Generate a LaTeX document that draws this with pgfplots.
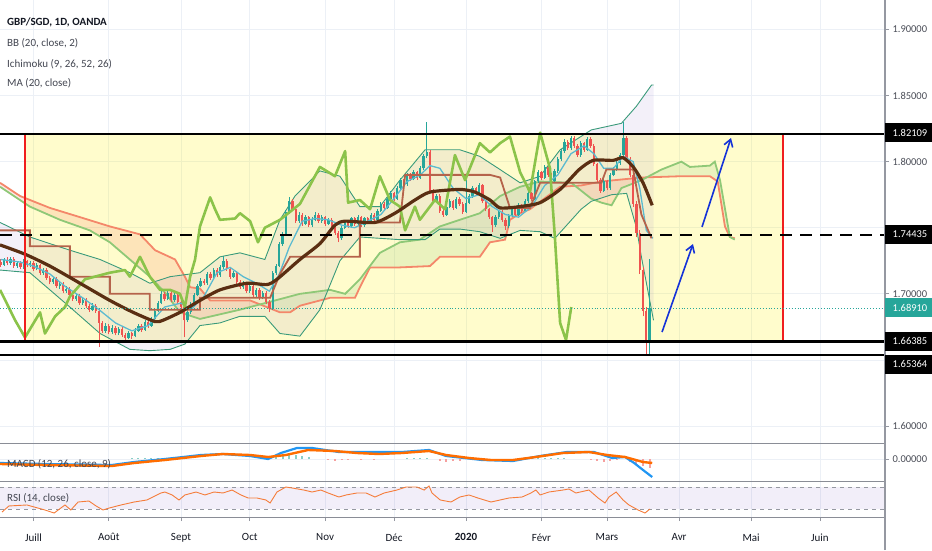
\documentclass[border=0pt]{standalone}
\usepackage{fontspec}
\setmainfont{Carlito}
\usepackage{pgfplots}
\usepackage{pgfplotstable}
\pgfplotsset{compat=1.18}
\usetikzlibrary{arrows.meta}

\definecolor{upc}{HTML}{26A69A}
\definecolor{dnc}{HTML}{EF5350}
\definecolor{gridc}{HTML}{ECF0F6}
\definecolor{sepc}{HTML}{8A8D96}
\definecolor{tickc}{HTML}{9598A1}
\definecolor{txt}{HTML}{131722}
\definecolor{txt2}{HTML}{434651}
\definecolor{lblc}{HTML}{4A4D57}
\definecolor{bbline}{HTML}{3A9A7A}
\definecolor{bbfillc}{HTML}{7E57C2}
\definecolor{spanA}{HTML}{8FC877}
\definecolor{spanB}{HTML}{F4876A}
\definecolor{kijun}{HTML}{B5634B}
\definecolor{tenkan}{HTML}{5BBAD0}
\definecolor{lag}{HTML}{8BC34A}
\definecolor{mac}{HTML}{5A2E12}
\definecolor{macdb}{HTML}{2196F3}
\definecolor{macdo}{HTML}{FF6D00}
\definecolor{rsic}{HTML}{F57C3A}
\definecolor{rsif}{HTML}{7E57C2}
\definecolor{arrowc}{HTML}{1432D8}
\definecolor{rectred}{HTML}{F01E1E}
\definecolor{cloudG}{HTML}{43A047}
\definecolor{cloudR}{HTML}{F44336}

\newcommand{\lblfont}{\fontsize{10.5}{12}\selectfont}
\newcommand{\legfont}{\fontsize{11}{13}\selectfont}

\pgfplotstableread{
x o c h l
-10 1.7240 1.7220 1.7262 1.7205
-9 1.7220 1.7255 1.7270 1.7210
-8 1.7255 1.7230 1.7275 1.7215
-7 1.7230 1.7265 1.7280 1.7220
-6 1.7265 1.7210 1.7278 1.7195
-5 1.7210 1.7235 1.7252 1.7198
-4 1.7235 1.7200 1.7248 1.7185
-3 1.7200 1.7245 1.7262 1.7190
-2 1.7245 1.7215 1.7258 1.7200
-1 1.7215 1.7230 1.7250 1.7200
0 1.7230 1.7190 1.7245 1.7175
1 1.7190 1.7215 1.7232 1.7178
2 1.7215 1.7160 1.7228 1.7145
3 1.7160 1.7180 1.7198 1.7142
4 1.7180 1.7120 1.7192 1.7105
5 1.7120 1.7090 1.7135 1.7072
6 1.7090 1.7115 1.7130 1.7078
7 1.7115 1.7060 1.7128 1.7045
8 1.7060 1.7075 1.7092 1.7040
9 1.7075 1.7020 1.7090 1.7005
10 1.7020 1.7040 1.7058 1.7008
11 1.7040 1.6990 1.7052 1.6975
12 1.6990 1.6960 1.7005 1.6945
13 1.6960 1.6985 1.7002 1.6948
14 1.6985 1.6930 1.6998 1.6915
15 1.6930 1.6955 1.6972 1.6918
16 1.6955 1.6905 1.6968 1.6890
17 1.6905 1.6880 1.6920 1.6862
18 1.6880 1.6910 1.6928 1.6868
19 1.6910 1.6870 1.6925 1.6855
20 1.6870 1.6780 1.6885 1.6600
21 1.6780 1.6720 1.6795 1.6700
22 1.6720 1.6760 1.6778 1.6705
23 1.6760 1.6710 1.6772 1.6695
24 1.6710 1.6745 1.6762 1.6698
25 1.6745 1.6700 1.6758 1.6685
26 1.6700 1.6735 1.6750 1.6688
27 1.6735 1.6690 1.6748 1.6672
28 1.6690 1.6665 1.6705 1.6648
29 1.6665 1.6700 1.6718 1.6655
30 1.6700 1.6680 1.6712 1.6662
31 1.6680 1.6720 1.6738 1.6670
32 1.6720 1.6760 1.6775 1.6710
33 1.6760 1.6730 1.6772 1.6715
34 1.6730 1.6790 1.6805 1.6720
35 1.6790 1.6760 1.6802 1.6745
36 1.6760 1.6810 1.6828 1.6750
37 1.6810 1.6870 1.6885 1.6800
38 1.6870 1.6930 1.6948 1.6860
39 1.6930 1.7000 1.7018 1.6920
40 1.7000 1.6960 1.7012 1.6945
41 1.6960 1.7010 1.7028 1.6950
42 1.7010 1.6950 1.7022 1.6935
43 1.6950 1.6990 1.7005 1.6938
44 1.6990 1.6940 1.7002 1.6925
45 1.6940 1.6900 1.6955 1.6885
46 1.6900 1.6800 1.6912 1.6670
47 1.6800 1.6860 1.6875 1.6790
48 1.6860 1.6920 1.6935 1.6850
49 1.6920 1.6990 1.7005 1.6910
50 1.6990 1.7060 1.7075 1.6980
51 1.7060 1.7100 1.7118 1.7048
52 1.7100 1.7080 1.7115 1.7065
53 1.7080 1.7150 1.7165 1.7070
54 1.7150 1.7120 1.7162 1.7105
55 1.7120 1.7180 1.7195 1.7110
56 1.7180 1.7140 1.7192 1.7125
57 1.7140 1.7200 1.7215 1.7130
58 1.7200 1.7250 1.7290 1.7190
59 1.7250 1.7190 1.7262 1.7175
60 1.7190 1.7130 1.7202 1.7115
61 1.7130 1.7160 1.7175 1.7118
62 1.7160 1.7090 1.7172 1.7075
63 1.7090 1.7050 1.7105 1.7035
64 1.7050 1.7080 1.7095 1.7038
65 1.7080 1.7020 1.7092 1.7005
66 1.7020 1.7060 1.7075 1.7008
67 1.7060 1.6990 1.7072 1.6975
68 1.6990 1.7030 1.7045 1.6978
69 1.7030 1.6970 1.7042 1.6955
70 1.6970 1.7010 1.7025 1.6958
71 1.7010 1.6940 1.7022 1.6925
72 1.6940 1.6890 1.6955 1.6860
73 1.6890 1.7160 1.7175 1.6880
74 1.7160 1.7210 1.7228 1.7145
75 1.7210 1.7380 1.7395 1.7200
76 1.7380 1.7450 1.7468 1.7365
77 1.7450 1.7620 1.7638 1.7440
78 1.7620 1.7700 1.7730 1.7605
79 1.7700 1.7640 1.7715 1.7625
80 1.7640 1.7550 1.7655 1.7535
81 1.7550 1.7600 1.7618 1.7538
82 1.7600 1.7530 1.7612 1.7515
83 1.7530 1.7580 1.7598 1.7518
84 1.7580 1.7520 1.7592 1.7505
85 1.7520 1.7560 1.7578 1.7508
86 1.7560 1.7600 1.7618 1.7548
87 1.7600 1.7550 1.7612 1.7535
88 1.7550 1.7580 1.7595 1.7538
89 1.7580 1.7530 1.7592 1.7515
90 1.7530 1.7560 1.7575 1.7518
91 1.7560 1.7500 1.7572 1.7485
92 1.7500 1.7460 1.7515 1.7445
93 1.7460 1.7420 1.7475 1.7390
94 1.7420 1.7500 1.7515 1.7410
95 1.7500 1.7540 1.7558 1.7488
96 1.7540 1.7510 1.7552 1.7495
97 1.7510 1.7570 1.7585 1.7500
98 1.7570 1.7530 1.7582 1.7515
99 1.7530 1.7580 1.7595 1.7518
100 1.7580 1.7520 1.7592 1.7505
101 1.7520 1.7570 1.7585 1.7508
102 1.7570 1.7540 1.7582 1.7525
103 1.7540 1.7600 1.7615 1.7530
104 1.7600 1.7560 1.7612 1.7545
105 1.7560 1.7630 1.7645 1.7548
106 1.7630 1.7680 1.7695 1.7618
107 1.7680 1.7650 1.7692 1.7635
108 1.7650 1.7720 1.7735 1.7640
109 1.7720 1.7760 1.7778 1.7708
110 1.7760 1.7720 1.7772 1.7705
111 1.7720 1.7800 1.7815 1.7710
112 1.7800 1.7860 1.7878 1.7788
113 1.7860 1.7830 1.7872 1.7815
114 1.7830 1.7900 1.7915 1.7818
115 1.7900 1.7870 1.7912 1.7855
116 1.7870 1.7920 1.7935 1.7858
117 1.7920 1.7880 1.7932 1.7865
118 1.7880 1.7950 1.7965 1.7870
119 1.7950 1.8040 1.8058 1.7940
120 1.8040 1.8070 1.8300 1.8025
121 1.8070 1.7780 1.8085 1.7765
122 1.7780 1.7700 1.7795 1.7685
123 1.7700 1.7740 1.7758 1.7688
124 1.7740 1.7630 1.7752 1.7615
125 1.7630 1.7600 1.7645 1.7585
126 1.7600 1.7660 1.7675 1.7590
127 1.7660 1.7700 1.7718 1.7648
128 1.7700 1.7650 1.7712 1.7635
129 1.7650 1.7720 1.7735 1.7640
130 1.7720 1.7680 1.7732 1.7665
131 1.7680 1.7620 1.7692 1.7605
132 1.7620 1.7690 1.7860 1.7610
133 1.7690 1.7740 1.7758 1.7678
134 1.7740 1.7800 1.7815 1.7728
135 1.7800 1.7760 1.7812 1.7745
136 1.7760 1.7820 1.7838 1.7748
137 1.7820 1.7700 1.7832 1.7685
138 1.7700 1.7640 1.7712 1.7625
139 1.7640 1.7580 1.7652 1.7565
140 1.7580 1.7520 1.7592 1.7470
141 1.7520 1.7580 1.7595 1.7508
142 1.7580 1.7620 1.7638 1.7568
143 1.7620 1.7560 1.7632 1.7545
144 1.7560 1.7510 1.7572 1.7480
145 1.7510 1.7590 1.7605 1.7498
146 1.7590 1.7640 1.7655 1.7578
147 1.7640 1.7600 1.7652 1.7585
148 1.7600 1.7670 1.7685 1.7588
149 1.7670 1.7630 1.7682 1.7615
150 1.7630 1.7700 1.7715 1.7618
151 1.7700 1.7760 1.7778 1.7688
152 1.7760 1.7720 1.7772 1.7705
153 1.7720 1.7850 1.7865 1.7708
154 1.7850 1.7920 1.7938 1.7838
155 1.7920 1.7880 1.7932 1.7865
156 1.7880 1.7960 1.7975 1.7868
157 1.7960 1.7900 1.7972 1.7885
158 1.7900 1.7850 1.7915 1.7835
159 1.7850 1.7930 1.7945 1.7838
160 1.7930 1.8020 1.8035 1.7918
161 1.8020 1.8080 1.8098 1.8008
162 1.8080 1.8150 1.8168 1.8068
163 1.8150 1.8100 1.8162 1.8085
164 1.8100 1.8180 1.8195 1.8088
165 1.8180 1.8120 1.8192 1.8105
166 1.8120 1.8050 1.8132 1.8035
167 1.8050 1.8140 1.8155 1.8038
168 1.8140 1.8090 1.8152 1.8075
169 1.8090 1.8170 1.8188 1.8078
170 1.8170 1.8120 1.8185 1.8105
171 1.8120 1.7980 1.8132 1.7965
172 1.7980 1.7860 1.7992 1.7845
173 1.7860 1.7780 1.7875 1.7765
174 1.7780 1.7850 1.7868 1.7768
175 1.7850 1.7800 1.7862 1.7785
176 1.7800 1.7900 1.7915 1.7788
177 1.7900 1.7940 1.7958 1.7888
178 1.7940 1.7990 1.8005 1.7928
179 1.7990 1.8050 1.8068 1.7978
180 1.8050 1.8180 1.8300 1.8035
181 1.8180 1.8020 1.8195 1.8005
182 1.8020 1.7900 1.8035 1.7885
183 1.7900 1.7680 1.7915 1.7660
184 1.7680 1.7460 1.7700 1.7430
185 1.7460 1.7180 1.7480 1.7150
186 1.7180 1.6870 1.7200 1.6830
187 1.6870 1.6640 1.6900 1.6536
188 1.6640 1.6891 1.7260 1.6540
}\candles

\pgfplotstableread{
x y
-10.2 1.737
-2.6 1.730
5.0 1.721
14.2 1.708
23.3 1.695
30.4 1.686
37.1 1.679
39.5 1.680
44.7 1.686
50.8 1.695
56.9 1.703
65.1 1.708
71.2 1.707
74.3 1.711
81.3 1.726
87.4 1.738
92.0 1.752
95.1 1.755
104.2 1.754
110.3 1.761
116.4 1.771
121.0 1.777
130.1 1.779
134.7 1.777
139.3 1.771
142.4 1.765
148.5 1.766
154.6 1.769
160.7 1.779
166.5 1.794
170.8 1.801
176.9 1.801
179.9 1.803
183.0 1.796
186.0 1.784
188.8 1.767
}\matab

\pgfplotstableread{
x y
-10.2 1.754
-1.1 1.743
11.1 1.733
20.3 1.726
29.4 1.716
35.5 1.708
41.7 1.713
50.8 1.716
56.9 1.728
63.0 1.731
70.6 1.726
75.2 1.756
79.8 1.774
87.4 1.793
93.5 1.789
99.6 1.766
105.7 1.766
111.8 1.786
119.5 1.809
130.1 1.809
136.2 1.804
142.4 1.794
148.5 1.784
154.6 1.789
160.7 1.809
170.2 1.824
179.4 1.829
184.0 1.842
188.6 1.858
189.2 1.858
}\bbu

\pgfplotstableread{
x y
-10.2 1.718
-1.1 1.716
11.1 1.690
20.3 1.670
29.4 1.658
35.5 1.657
41.7 1.658
46.2 1.662
50.8 1.676
56.9 1.678
63.0 1.683
70.6 1.683
75.2 1.670
81.3 1.668
87.4 1.688
93.5 1.725
99.6 1.743
105.7 1.742
111.8 1.741
119.5 1.741
124.0 1.749
130.1 1.749
136.2 1.747
142.4 1.742
148.5 1.748
154.6 1.747
159.1 1.742
167.1 1.764
170.2 1.770
176.4 1.775
181.0 1.776
184.0 1.750
185.5 1.728
189.2 1.680
}\bbl

% Bollinger band area: upper band forward, lower band back
\pgfplotstableread{
x y
-10.2 1.754
-1.1 1.743
11.1 1.733
20.3 1.726
29.4 1.716
35.5 1.708
41.7 1.713
50.8 1.716
56.9 1.728
63.0 1.731
70.6 1.726
75.2 1.756
79.8 1.774
87.4 1.793
93.5 1.789
99.6 1.766
105.7 1.766
111.8 1.786
119.5 1.809
130.1 1.809
136.2 1.804
142.4 1.794
148.5 1.784
154.6 1.789
160.7 1.809
170.2 1.824
179.4 1.829
184.0 1.842
188.6 1.858
189.2 1.858
189.2 1.680
185.5 1.728
184.0 1.750
181.0 1.776
176.4 1.775
170.2 1.770
167.1 1.764
159.1 1.742
154.6 1.747
148.5 1.748
142.4 1.742
136.2 1.747
130.1 1.749
124.0 1.749
119.5 1.741
111.8 1.741
105.7 1.742
99.6 1.743
93.5 1.725
87.4 1.688
81.3 1.668
75.2 1.670
70.6 1.683
63.0 1.683
56.9 1.678
50.8 1.676
46.2 1.662
41.7 1.658
35.5 1.657
29.4 1.658
20.3 1.670
11.1 1.690
-1.1 1.716
-10.2 1.718
}\bbpoly

\pgfplotstableread{
x y
-10.2 1.784
-4.1 1.774
5.0 1.765
14.2 1.758
23.3 1.751
32.5 1.745
37.1 1.733
43.2 1.726
46.2 1.713
47.8 1.705
50.8 1.704
53.9 1.695
66.1 1.695
75.2 1.686
78.3 1.686
81.3 1.691
90.5 1.697
98.1 1.697
99.6 1.705
102.7 1.720
111.8 1.720
121.0 1.721
124.0 1.728
136.2 1.728
139.3 1.739
143.9 1.741
145.4 1.756
148.5 1.761
151.5 1.764
160.7 1.781
167.1 1.782
173.3 1.785
185.5 1.788
197.7 1.789
206.4 1.789
208.8 1.785
211.0 1.751
212.5 1.743
214.0 1.742
}\spb

\pgfplotstableread{
x y
-10.2 1.781
-1.1 1.766
8.1 1.756
17.2 1.748
23.3 1.739
29.4 1.726
35.5 1.713
40.1 1.701
44.7 1.686
50.8 1.681
63.0 1.688
72.2 1.694
81.3 1.700
90.5 1.703
95.1 1.700
99.6 1.711
105.7 1.731
111.8 1.739
117.9 1.741
124.0 1.751
130.1 1.756
136.2 1.761
142.4 1.774
148.5 1.781
154.6 1.785
164.1 1.784
170.2 1.772
173.3 1.769
176.4 1.767
179.4 1.780
185.5 1.786
191.6 1.794
197.7 1.800
200.3 1.796
206.4 1.797
207.9 1.800
209.5 1.786
212.5 1.743
214.0 1.741
}\spa

% cloud pieces (span A forward, span B back)
\pgfplotstableread{
x y
-10.2 1.781
-1.1 1.766
8.1 1.756
17.2 1.748
23.3 1.739
29.4 1.726
35.5 1.713
40.1 1.701
44.7 1.686
50.8 1.681
63.0 1.688
69.0 1.692
66.1 1.695
53.9 1.695
50.8 1.704
47.8 1.705
46.2 1.713
43.2 1.726
37.1 1.733
32.5 1.745
23.3 1.751
14.2 1.758
5.0 1.765
-4.1 1.774
-10.2 1.784
}\cloudone

\pgfplotstableread{
x y
69.0 1.692
72.2 1.694
81.3 1.700
90.5 1.703
95.1 1.700
99.6 1.711
105.7 1.731
111.8 1.739
117.9 1.741
124.0 1.751
130.1 1.756
136.2 1.761
142.4 1.774
148.5 1.781
154.6 1.785
164.1 1.784
165.3 1.7815
160.7 1.781
151.5 1.764
148.5 1.761
145.4 1.756
143.9 1.741
139.3 1.739
136.2 1.728
124.0 1.728
121.0 1.721
111.8 1.720
102.7 1.720
99.6 1.705
98.1 1.697
90.5 1.697
81.3 1.691
78.3 1.686
75.2 1.686
}\cloudtwo

\pgfplotstableread{
x y
165.3 1.7815
170.2 1.772
173.3 1.769
176.4 1.767
179.4 1.780
185.5 1.786
187.2 1.7882
185.5 1.788
173.3 1.785
167.1 1.782
}\cloudthree

\pgfplotstableread{
x y
187.2 1.7882
191.6 1.794
197.7 1.800
200.3 1.796
206.4 1.797
207.9 1.800
209.5 1.786
212.5 1.743
211.0 1.751
208.8 1.785
206.4 1.789
197.7 1.789
}\cloudfour

\pgfplotstableread{
x y
-10.2 1.703
-5.6 1.680
-2.6 1.667
2.0 1.686
3.5 1.670
6.6 1.683
9.6 1.690
11.1 1.698
15.7 1.711
23.3 1.716
27.9 1.718
29.4 1.713
32.5 1.728
35.5 1.713
38.6 1.703
41.7 1.703
44.7 1.700
46.2 1.690
47.8 1.713
49.3 1.726
50.8 1.751
53.9 1.773
55.4 1.764
56.9 1.756
61.5 1.757
63.0 1.761
66.1 1.755
68.5 1.739
70.6 1.750
75.2 1.756
81.3 1.768
87.4 1.796
92.0 1.789
95.1 1.808
96.0 1.769
99.6 1.771
102.7 1.764
105.7 1.789
108.8 1.771
111.8 1.766
113.4 1.748
116.4 1.766
117.9 1.756
122.5 1.771
125.6 1.764
128.6 1.805
131.7 1.786
136.2 1.814
139.3 1.807
142.4 1.814
145.4 1.819
148.5 1.792
151.5 1.777
154.6 1.822
157.6 1.795
159.1 1.743
160.7 1.678
162.5 1.665
164.1 1.690
}\lagtab

\pgfplotstableread{
x y
-10.2 1.748
-1.1 1.748
-1.1 1.736
11.1 1.736
11.1 1.713
23.3 1.713
23.3 1.700
35.5 1.700
35.5 1.688
50.8 1.688
50.8 1.697
72.2 1.697
75.2 1.715
78.3 1.728
99.6 1.728
99.6 1.754
111.8 1.754
113.4 1.790
139.3 1.790
142.4 1.788
145.4 1.765
151.5 1.765
154.6 1.784
173.3 1.784
174.8 1.794
183.0 1.794
185.5 1.760
188.6 1.742
}\kijtab

\pgfplotstableread{
x y
-10 1.726
-4 1.724
0 1.721
5 1.715
10 1.705
15 1.697
20 1.688
25 1.678
30 1.672
35 1.676
40 1.690
45 1.693
48 1.688
52 1.698
56 1.716
60 1.720
64 1.713
68 1.708
72 1.702
75 1.715
78 1.735
82 1.755
86 1.757
90 1.756
94 1.752
98 1.750
102 1.755
106 1.760
110 1.772
114 1.785
118 1.790
121 1.797
124 1.795
128 1.780
132 1.772
136 1.775
140 1.766
144 1.760
148 1.758
152 1.766
156 1.782
160 1.790
164 1.806
168 1.812
171 1.806
174 1.795
177 1.795
180 1.804
183 1.800
185 1.780
187 1.748
189 1.742
}\tentab

\pgfplotstableread{
x y
-10.2 -0.005
3.5 -0.006
23.9 -0.007
30.7 -0.004
40.1 -0.001
51.1 0.003
57.8 0.005
66.1 0.004
71.6 0.002
77.0 0.004
83.8 0.009
92.0 0.008
98.7 0.006
105.4 0.005
112.4 0.006
120.7 0.008
125.9 0.004
132.9 0.001
139.6 -0.001
146.3 -0.001
153.3 0.002
161.6 0.006
169.5 0.007
175.0 0.004
180.5 0.002
186.0 -0.003
188.8 -0.004
}\sigtab

\pgfplotstableread{
x y
-10.2 -0.004
3.5 -0.005
23.9 -0.006
30.7 -0.003
40.1 0.000
51.1 0.004
57.8 0.005
66.1 0.003
71.6 0.000
75.5 0.006
80.4 0.011
85.0 0.011
93.2 0.007
112.4 0.007
120.7 0.009
125.9 0.003
136.9 -0.001
146.3 -0.002
154.6 0.003
162.8 0.007
171.0 0.007
176.6 0.001
180.5 0.002
183.3 -0.004
186.0 -0.011
188.8 -0.018
}\macdtab

\pgfplotstableread{
x y
30 0.0008
32 0.0012
34 0.0015
36 0.0015
38 0.0012
40 0.0010
42 0.0008
44 0.0006
74 0.0020
76 0.0030
78 0.0040
80 0.0040
82 0.0030
84 0.0020
114 0.0010
116 0.0012
118 0.0015
120 0.0012
152 0.0010
154 0.0012
156 0.0015
158 0.0012
160 0.0010
162 0.0008
}\histup

\pgfplotstableread{
x y
90 -0.0010
92 -0.0015
94 -0.0012
96 -0.0010
100 -0.0008
104 -0.0010
124 -0.0020
126 -0.0030
128 -0.0020
130 -0.0015
136 -0.0010
138 -0.0012
170 -0.0010
172 -0.0020
174 -0.0030
176 -0.0020
178 -0.0010
182 -0.0030
184 -0.0050
186 -0.0070
188 -0.0085
}\histdn

\pgfplotstableread{
x y
-9.6 24.5
-7.5 35.5
-2.0 37.3
3.5 28.2
6.3 22.7
9.6 37.3
11.4 28.2
13.6 42.7
16.9 44.5
19.1 35.5
21.2 28.2
23.1 31.8
26.7 37.3
30.7 42.7
34.6 46.4
38.9 59.1
40.1 60.9
42.3 55.5
44.4 46.4
46.2 55.5
49.6 60.9
52.3 55.5
55.1 60.9
57.8 59.1
60.6 64.5
63.3 55.5
65.5 50.0
68.2 50.0
70.9 46.4
72.2 40.9
74.3 60.9
77.0 70.0
78.9 68.2
82.5 64.5
85.0 60.9
87.7 64.5
89.9 59.1
93.2 51.8
95.4 55.5
98.7 59.1
101.5 59.1
104.2 51.8
107.0 59.1
110.9 64.5
113.7 70.0
117.0 70.0
119.2 64.5
120.7 71.8
121.6 59.1
124.1 46.4
127.4 42.7
130.1 51.8
132.9 55.5
135.6 50.0
139.6 42.7
142.4 46.4
145.1 50.0
149.1 51.8
151.8 59.1
153.3 64.5
154.6 55.5
157.3 60.9
161.6 64.5
163.4 66.4
165.5 59.1
169.5 64.5
172.3 50.0
174.4 40.9
175.6 51.8
177.8 60.9
179.9 46.4
181.7 37.3
184.5 28.2
186.6 22.7
188.1 30.0
}\rsitab

\pgfplotsset{
  panel/.style={
    scale only axis, width=885pt,
    xmin=-10.223, xmax=259.84,
    axis line style={draw=none},
    xtick={0,23,45,66,89,110,132,155,175,197,219,240},
    xticklabels={},
    xmajorgrids,
    grid style={draw=gridc, line width=0.8pt},
    xtick style={draw=none},
    ytick pos=right, yticklabel pos=right,
    ytick style={draw=tickc, line width=0.8pt},
    tick align=outside, major tick length=4pt,
    yticklabel style={font=\lblfont, text=lblc, anchor=west},
    scaled ticks=false,
    clip=true,
  },
}

\begin{document}
\begin{tikzpicture}[x=1pt,y=1pt]
\path[use as bounding box] (0pt,0pt) rectangle (932pt,550pt);

% ---------------- main price panel ----------------
\begin{axis}[panel, at={(0pt,550pt)}, anchor=north west, height=443pt,
  ymin=1.58714, ymax=1.92232, ymajorgrids,
  ytick={1.60,1.65,1.70,1.75,1.80,1.85,1.90},
  yticklabels={1.60000,,1.70000,,1.80000,1.85000,1.90000}]

% yellow rectangle fill
\addplot[fill=yellow, fill opacity=0.2, draw=none, forget plot] coordinates {(-2.6,1.66385) (228.7,1.66385) (228.7,1.82109) (-2.6,1.82109)};

% ichimoku cloud
\addplot[fill=cloudR, fill opacity=0.13, draw=none, forget plot] table[x=x,y=y]{\cloudone};
\addplot[fill=cloudG, fill opacity=0.11, draw=none, forget plot] table[x=x,y=y]{\cloudtwo};
\addplot[fill=cloudR, fill opacity=0.13, draw=none, forget plot] table[x=x,y=y]{\cloudthree};
\addplot[fill=cloudG, fill opacity=0.11, draw=none, forget plot] table[x=x,y=y]{\cloudfour};

% Bollinger fill
\addplot[fill=bbfillc, fill opacity=0.09, draw=none, forget plot] table[x=x,y=y]{\bbpoly};

% cloud lines
\addplot[spanB, line width=1.8pt, mark=none] table[x=x,y=y]{\spb};
\addplot[spanA, line width=1.8pt, mark=none] table[x=x,y=y]{\spa};

% BB bands
\addplot[bbline, line width=0.9pt, mark=none] table[x=x,y=y]{\bbu};
\addplot[bbline, line width=0.9pt, mark=none] table[x=x,y=y]{\bbl};

% candles: wicks (zero length where the candle has the other colour)
\addplot[draw=none, mark=none, forget plot,
  error bars/.cd, y dir=plus, y explicit, error mark=none,
  error bar style={draw=upc, solid, line width=0.8pt}]
  table[x=x, y=l, y error expr={\thisrow{c}<\thisrow{o} ? 0 : \thisrow{h}-\thisrow{l}}]{\candles};
\addplot[draw=none, mark=none, forget plot,
  error bars/.cd, y dir=plus, y explicit, error mark=none,
  error bar style={draw=dnc, solid, line width=0.8pt}]
  table[x=x, y=l, y error expr={\thisrow{c}<\thisrow{o} ? \thisrow{h}-\thisrow{l} : 0}]{\candles};
% candles: bodies
\addplot[draw=none, mark=none, forget plot,
  error bars/.cd, y dir=plus, y explicit, error mark=none,
  error bar style={draw=upc, solid, line width=2.3pt}]
  table[x=x, y=o, y error expr={\thisrow{c}<\thisrow{o} ? 0 : \thisrow{c}-\thisrow{o}}]{\candles};
\addplot[draw=none, mark=none, forget plot,
  error bars/.cd, y dir=plus, y explicit, error mark=none,
  error bar style={draw=dnc, solid, line width=2.3pt}]
  table[x=x, y=c, y error expr={\thisrow{c}<\thisrow{o} ? \thisrow{o}-\thisrow{c} : 0}]{\candles};

% Ichimoku conversion / base / lagging
\addplot[tenkan, line width=1.3pt, mark=none] table[x=x,y=y]{\tentab};
\addplot[kijun, line width=1.8pt, mark=none] table[x=x,y=y]{\kijtab};
\addplot[lag, line width=2.6pt, mark=none, line join=round] table[x=x,y=y]{\lagtab};

% MA 20
\addplot[mac, line width=3.2pt, mark=none, smooth, tension=0.4] table[x=x,y=y]{\matab};

% rectangle border
\addplot[rectred, line width=1.5pt, mark=none, forget plot] coordinates {(-2.6,1.66385) (228.7,1.66385) (228.7,1.82109) (-2.6,1.82109) (-2.6,1.66385)};

% horizontal levels
\addplot[black, line width=2.4pt, mark=none, forget plot] coordinates {(-10.223,1.82109) (259.84,1.82109)};
\addplot[black, line width=2.4pt, mark=none, forget plot, dash pattern=on 12pt off 8pt] coordinates {(-10.223,1.74435) (259.84,1.74435)};
\addplot[black, line width=2.4pt, mark=none, forget plot] coordinates {(-10.223,1.66385) (259.84,1.66385)};
\addplot[black, line width=2.4pt, mark=none, forget plot] coordinates {(-10.223,1.65364) (259.84,1.65364)};
\addplot[upc, line width=0.9pt, mark=none, forget plot, dotted] coordinates {(-10.223,1.68910) (259.84,1.68910)};

% blue arrows
\addplot[arrowc, line width=1.6pt, mark=none, forget plot, -{Straight Barb[length=7pt,width=9pt]}] coordinates {(191.8,1.6711) (201.25,1.7377)};
\addplot[arrowc, line width=1.6pt, mark=none, forget plot, -{Straight Barb[length=7pt,width=9pt]}] coordinates {(204.0,1.7506) (212.85,1.8179)};
\end{axis}

% ---------------- MACD panel ----------------
\begin{axis}[panel, at={(0pt,107pt)}, anchor=north west, height=38pt,
  ymin=-0.022, ymax=0.016, ymajorgrids,
  ytick={0}, yticklabels={0.00000}]
\addplot[ycomb, upc!55, line width=2pt, mark=none] table[x=x,y=y]{\histup};
\addplot[ycomb, dnc!55, line width=2pt, mark=none] table[x=x,y=y]{\histdn};
\addplot[macdb, line width=2.2pt, mark=none] table[x=x,y=y]{\macdtab};
\addplot[macdo, line width=2.4pt, mark=none] table[x=x,y=y]{\sigtab};
\end{axis}

% ---------------- RSI panel ----------------
\begin{axis}[panel, at={(0pt,69pt)}, anchor=north west, height=36pt,
  ymin=15.45, ymax=80.91, ytick=\empty,
  xtick pos=bottom,
  xtick style={draw=tickc, line width=0.8pt},
  xticklabels={Juill,Août,Sept,Oct,Nov,Déc,\textbf{2020},Févr,Mars,Avr,Mai,Juin},
  xticklabel style={font=\legfont, text=txt, yshift=-9pt}]
\addplot[fill=rsif, fill opacity=0.1, draw=none, forget plot] coordinates {(-10.223,30) (259.84,30) (259.84,70) (-10.223,70)};
\addplot[tickc, line width=0.8pt, mark=none, dash pattern=on 4pt off 4pt] coordinates {(-10.223,70) (259.84,70)};
\addplot[tickc, line width=0.8pt, mark=none, dash pattern=on 4pt off 4pt] coordinates {(-10.223,30) (259.84,30)};
\addplot[rsic, line width=0.9pt, mark=none] table[x=x,y=y]{\rsitab};
\end{axis}

% separators and right scale line
\draw[sepc, line width=1pt] (0pt,107pt) -- (885pt,107pt);
\draw[sepc, line width=1pt] (0pt,69pt) -- (885pt,69pt);
\draw[sepc, line width=1pt] (0pt,33pt) -- (885pt,33pt);
\draw[tickc, line width=1.2pt] (885pt,0pt) -- (885pt,550pt);

% boxed price labels
\fill[black] (885pt,407.9pt) rectangle (932pt,426.9pt);
\node[anchor=west, inner sep=0, text=white, font=\lblfont] at (892.5pt,417.4pt) {1.82109};
\fill[black] (885pt,306.2pt) rectangle (932pt,325.2pt);
\node[anchor=west, inner sep=0, text=white, font=\lblfont] at (892.5pt,315.7pt) {1.74435};
\fill[upc] (885pt,233pt) rectangle (932pt,252pt);
\node[anchor=west, inner sep=0, text=white, font=\lblfont] at (892.5pt,242.5pt) {1.68910};
\fill[black] (885pt,199.2pt) rectangle (932pt,218.2pt);
\node[anchor=west, inner sep=0, text=white, font=\lblfont] at (892.5pt,208.7pt) {1.66385};
\fill[black] (885pt,176.5pt) rectangle (932pt,195.5pt);
\node[anchor=west, inner sep=0, text=white, font=\lblfont] at (892.5pt,186pt) {1.65364};

% legend texts
\node[anchor=base west, inner sep=0, text=txt, font=\bfseries\legfont] at (7pt,524.5pt) {GBP/SGD, 1D, OANDA};
\node[anchor=base west, inner sep=0, text=txt2, font=\legfont] at (7pt,503.5pt) {BB (20, close, 2)};
\node[anchor=base west, inner sep=0, text=txt2, font=\legfont] at (7pt,482.5pt) {Ichimoku (9, 26, 52, 26)};
\node[anchor=base west, inner sep=0, text=txt2, font=\legfont] at (7pt,463.5pt) {MA (20, close)};
\node[anchor=base west, inner sep=0, text=txt2, font=\legfont] at (7pt,83pt) {MACD (12, 26, close, 9)};
\node[anchor=base west, inner sep=0, text=txt2, font=\legfont] at (7pt,49pt) {RSI (14, close)};
\end{tikzpicture}
\end{document}
